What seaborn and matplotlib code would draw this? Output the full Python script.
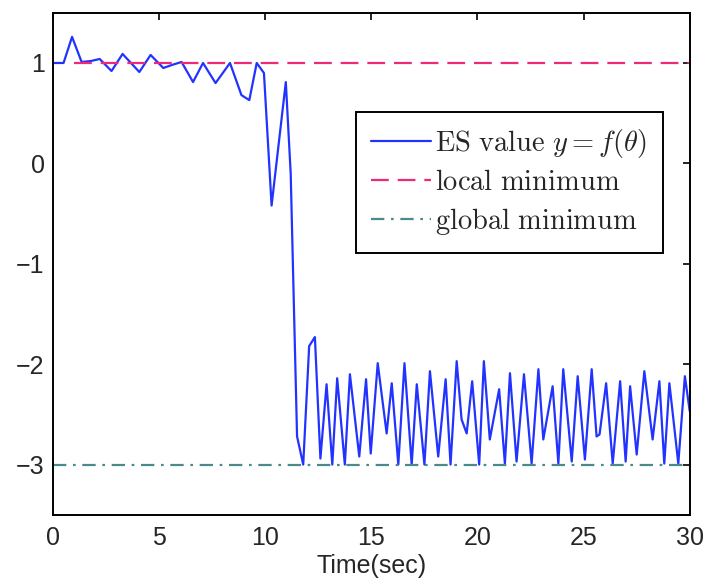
import matplotlib
matplotlib.use("Agg")
import matplotlib.pyplot as plt
import seaborn as sns
import pandas as pd
import numpy as np

# ---- data ----
time_s = [0.0, 0.5, 0.9, 1.35, 1.8, 2.2, 2.76, 3.28, 4.07, 4.6, 5.2, 5.6, 6.06, 6.6, 7.07,
          7.66, 8.34, 8.88, 9.25, 9.6, 9.94, 10.3, 10.97, 11.2, 11.5, 11.79,
          12.07, 12.34, 12.6, 12.89, 13.16, 13.39, 13.75, 13.99, 14.43, 14.75, 14.97,
          15.3, 15.72, 15.96, 16.27, 16.56, 16.9, 17.14, 17.5, 17.76, 18.15, 18.5, 18.73,
          19.02, 19.25, 19.49, 19.75, 20.08, 20.3, 20.58, 21.02, 21.29, 21.53, 21.84,
          22.19, 22.55, 22.87, 23.1, 23.54, 23.81, 24.04, 24.44, 24.72, 25.06, 25.38,
          25.61, 25.75, 26.06, 26.37, 26.72, 26.98, 27.19, 27.5, 27.86, 28.25, 28.57,
          28.8, 29.04, 29.46, 29.77, 30.0]
es_value = [1.0, 1.0, 1.26, 1.01, 1.02, 1.04, 0.92, 1.09, 0.91, 1.08, 0.95, 0.98, 1.01, 0.81, 1.0,
            0.80, 1.0, 0.68, 0.63, 1.0, 0.90, -0.42, 0.81, -0.1, -2.72, -3.0,
            -1.82, -1.73, -2.94, -2.2, -3.0, -2.14, -3.0, -2.10, -2.92, -2.15, -2.89,
            -1.99, -2.69, -2.19, -3.0, -1.99, -3.0, -2.2, -3.0, -2.07, -2.92, -2.15, -3.0,
            -1.97, -2.55, -2.69, -2.17, -3.0, -1.97, -2.75, -2.25, -2.99, -2.09, -2.97,
            -2.10, -2.99, -2.05, -2.75, -2.22, -2.99, -2.05, -2.97, -2.12, -2.95, -2.05,
            -2.72, -2.70, -2.19, -2.99, -2.17, -2.97, -2.22, -2.9, -2.07, -2.75, -2.17,
            -2.99, -2.19, -2.99, -2.12, -2.47]

local_t = [1.0, 30.0]
local_val = [1.0, 1.0]
global_t = [0.0, 30.0]
global_val = [-3.0, -3.0]

x_ticks = [0, 5, 10, 15, 20, 25, 30]
y_ticks = [-3, -2, -1, 0, 1]

# ---- style ----
sns.set_style("white")
plt.rcParams["font.family"] = ["Liberation Sans", "DejaVu Sans"]
plt.rcParams["mathtext.fontset"] = "cm"

fig = plt.figure(figsize=(7.06, 5.81), dpi=100)
ax = fig.add_axes([0.075, 0.114, 0.902, 0.864])

es_df = pd.DataFrame({"t": time_s, "y": es_value})
loc_df = pd.DataFrame({"t": local_t, "y": local_val})
glo_df = pd.DataFrame({"t": global_t, "y": global_val})

sns.lineplot(data=es_df, x="t", y="y", ax=ax, color="#2233ff", linewidth=1.6,
             label=r"$\mathrm{ES\ value}\ y=f(\theta)$", estimator=None, sort=False)
sns.lineplot(data=loc_df, x="t", y="y", ax=ax, color="#f0287a", linewidth=1.6,
             label=r"$\mathrm{local\ minimum}$", estimator=None)
sns.lineplot(data=glo_df, x="t", y="y", ax=ax, color="#4a8a8a", linewidth=1.6,
             label=r"$\mathrm{global\ minimum}$", estimator=None)
ax.lines[1].set_dashes([8, 4])
ax.lines[2].set_dashes([6, 3, 1.2, 3])

ax.set_xlim(0, 30)
ax.set_ylim(-3.5, 1.5)
ax.set_xticks(x_ticks)
ax.set_yticks(y_ticks)
ax.set_xticklabels([str(v) for v in x_ticks])
ax.set_yticklabels([str(v).replace("-", "\u2212") for v in y_ticks])
ax.set_xlabel("Time(sec)", fontsize=18, labelpad=3)
ax.set_ylabel("")
ax.tick_params(axis="both", which="major", direction="in", length=5, width=1.2,
               labelsize=18, top=True, right=True, color="black")
ax.tick_params(axis="x", pad=8)
ax.tick_params(axis="y", pad=6)
for sp in ax.spines.values():
    sp.set_color("black")
    sp.set_linewidth(1.4)

leg = ax.legend(loc="upper right", bbox_to_anchor=(0.958, 0.803), fontsize=20.5,
                frameon=True, fancybox=False, edgecolor="black", framealpha=1,
                borderpad=0.55, handlelength=2.1, handletextpad=0.15, labelspacing=0.35,
                borderaxespad=0)
leg.get_frame().set_linewidth(1.4)

fig.savefig("out.png", dpi=100, facecolor="white")
